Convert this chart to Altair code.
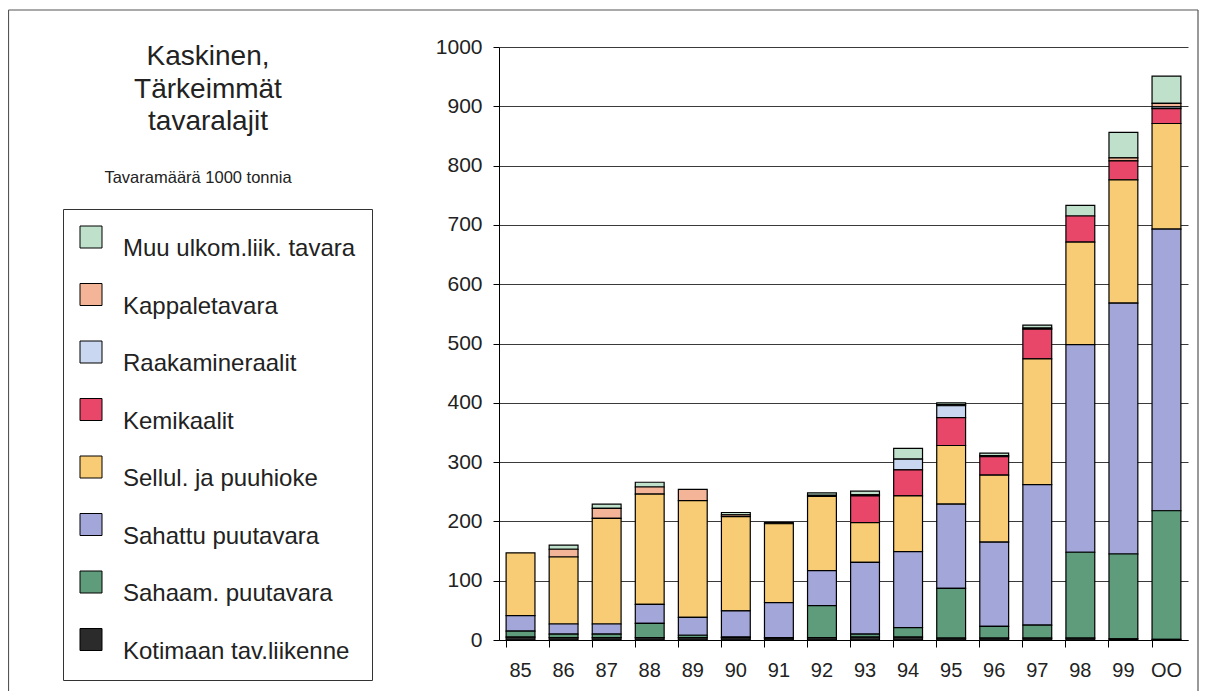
import altair as alt
import pandas as pd

# ---- data (1000 tonnes) ----
years = ["85", "86", "87", "88", "89", "90", "91", "92", "93", "94", "95", "96", "97", "98", "99", "OO"]
kotimaan = [5, 4, 4, 4, 4, 4, 3, 4, 5, 5, 3, 3, 3, 3, 2, 1]
sahaam = [10, 6, 6, 24, 4, 1, 1, 54, 5, 16, 84, 20, 22, 145, 143, 217]
sahattu = [26, 17, 17, 32, 30, 44, 59, 59, 121, 128, 142, 142, 237, 350, 423, 475]
sellu = [106, 113, 178, 186, 197, 159, 133, 125, 67, 94, 99, 113, 212, 173, 208, 178]
kemik = [0, 0, 0, 0, 0, 0, 0, 0, 45, 44, 47, 31, 50, 44, 32, 25]
raaka = [0, 0, 0, 0, 0, 0, 0, 0, 0, 18, 20, 0, 0, 0, 0, 3]
kappale = [0, 13, 17, 12, 19, 3, 0, 2, 2, 0, 2, 2, 2, 0, 5, 6]
muu = [0, 7, 7, 8, 0, 4, 2, 4, 6, 18, 3, 4, 5, 18, 43, 46]

# legend order (top to bottom)
categories = [
    "Muu ulkom.liik. tavara",
    "Kappaletavara",
    "Raakamineraalit",
    "Kemikaalit",
    "Sellul. ja puuhioke",
    "Sahattu puutavara",
    "Sahaam. puutavara",
    "Kotimaan tav.liikenne",
]
series = [muu, kappale, raaka, kemik, sellu, sahattu, sahaam, kotimaan]
colors = ["#bfe0cb", "#f3b497", "#c9d7f0", "#e8476a", "#f8cc74", "#a2a6d8", "#5e9c7c", "#2b2b2b"]

title_lines = ["Kaskinen,", "Tärkeimmät", "tavaralajit"]
subtitle = "Tavaramäärä 1000 tonnia"

rows = []
for ci, (cat, vals) in enumerate(zip(categories, series)):
    stack_idx = len(categories) - 1 - ci  # Kotimaan at the bottom
    for y, v in zip(years, vals):
        if v > 0:
            rows.append({"year": y, "category": cat, "value": v, "stack": stack_idx})
df = pd.DataFrame(rows)
one = pd.DataFrame({"k": [0]})

FONT = "Liberation Sans"
W, H = 689, 593

bars = alt.Chart(df).mark_bar(stroke="black", strokeWidth=1.2).encode(
    x=alt.X(
        "year:N",
        sort=years,
        scale=alt.Scale(paddingInner=0.33, paddingOuter=0.165),
        axis=alt.Axis(
            title=None, labelAngle=0, bandPosition=0, labelFontSize=20, labelColor="#222",
            tickSize=7, tickColor="black", domainColor="black", labelPadding=13, grid=False,
        ),
    ),
    y=alt.Y(
        "value:Q",
        stack="zero",
        scale=alt.Scale(domain=[0, 1000], nice=False),
        axis=alt.Axis(
            title=None, values=list(range(0, 1001, 100)), format="d", labelFontSize=21,
            labelColor="#222", tickSize=6, tickColor="black", domainColor="black",
            labelPadding=11, grid=True, gridColor="#3a3a3a", gridWidth=1,
        ),
    ),
    color=alt.Color(
        "category:N",
        scale=alt.Scale(domain=categories, range=colors),
        legend=alt.Legend(
            title=None, orient="none", legendX=-436, legendY=162, padding=16,
            strokeColor="#333", symbolType="square", symbolSize=484,
            symbolStrokeColor="black", symbolStrokeWidth=1, symbolOpacity=1,
            labelFontSize=24, labelOffset=20, labelBaseline="top", rowPadding=20.5,
            labelLimit=400, labelColor="#222",
        ),
    ),
    order=alt.Order("stack:Q", sort="ascending"),
)

title = alt.Chart(one).mark_text(
    text=title_lines, fontSize=28, lineHeight=32.5, align="center",
    baseline="alphabetic", color="#222", font=FONT,
).encode(x=alt.value(-291), y=alt.value(18))

sub = alt.Chart(one).mark_text(
    text=subtitle, fontSize=16.5, align="center", baseline="alphabetic",
    color="#222", font=FONT,
).encode(x=alt.value(-301), y=alt.value(136))

frame_top = alt.Chart(one).mark_rule(color="#555", strokeWidth=1.2).encode(
    x=alt.value(-490.5), x2=alt.value(699), y=alt.value(-37)
)
frame_left = alt.Chart(one).mark_rule(color="#555", strokeWidth=1.2).encode(
    x=alt.value(-490.5), y=alt.value(-37), y2=alt.value(645)
)
frame_right = alt.Chart(one).mark_rule(color="#555", strokeWidth=1.2).encode(
    x=alt.value(699), y=alt.value(-37), y2=alt.value(645)
)

chart = alt.layer(bars, title, sub, frame_top, frame_left, frame_right).properties(
    width=W,
    height=H,
    padding={"left": 491, "top": 39, "right": 11, "bottom": 51},
    autosize=alt.AutoSizeParams(type="none"),
).configure(font=FONT).configure_view(stroke=None)

chart.save("out.html", embed_options={"renderer": "svg", "actions": False})
